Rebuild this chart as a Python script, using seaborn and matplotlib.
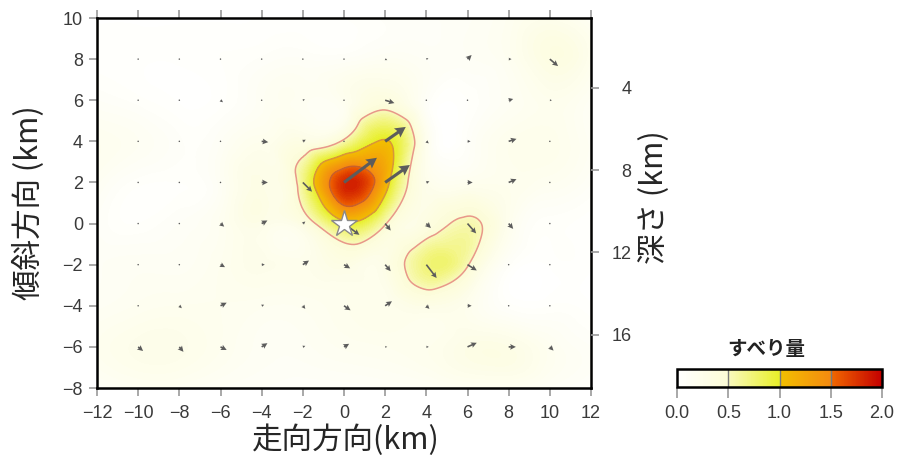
import numpy as np
import matplotlib
matplotlib.use("Agg")
import matplotlib.pyplot as plt
import matplotlib.tri as mtri
from matplotlib.colors import LinearSegmentedColormap, Normalize
from matplotlib.cm import ScalarMappable
import seaborn as sns

# slip grid (m), nodes every 2 km
grid_x = [-12, -10, -8, -6, -4, -2, 0, 2, 4, 6, 8, 10, 12]
grid_y = [10, 8, 6, 4, 2, 0, -2, -4, -6, -8]
slip = [
    [0.02, 0.02, 0.02, 0.02, 0.03, 0.05, 0.05, 0.08, 0.10, 0.12, 0.18, 0.24, 0.14],
    [0.04, 0.03, 0.03, 0.05, 0.08, 0.10, 0.10, 0.15, 0.12, 0.12, 0.18, 0.34, 0.22],
    [0.10, 0.06, 0.02, 0.04, 0.14, 0.16, 0.20, 0.38, 0.10, 0.05, 0.14, 0.22, 0.14],
    [0.20, 0.15, 0.08, 0.12, 0.22, 0.32, 0.55, 1.02, 0.22, 0.08, 0.22, 0.24, 0.14],
    [0.16, 0.06, 0.05, 0.14, 0.30, 0.65, 1.80, 1.15, 0.25, 0.20, 0.22, 0.18, 0.10],
    [0.10, 0.05, 0.10, 0.18, 0.28, 0.34, 0.92, 0.52, 0.35, 0.55, 0.22, 0.06, 0.03],
    [0.12, 0.14, 0.14, 0.20, 0.26, 0.24, 0.32, 0.30, 0.72, 0.52, 0.08, 0.03, 0.03],
    [0.14, 0.18, 0.20, 0.20, 0.18, 0.18, 0.22, 0.24, 0.30, 0.22, 0.06, 0.05, 0.03],
    [0.20, 0.26, 0.26, 0.20, 0.14, 0.14, 0.18, 0.20, 0.22, 0.30, 0.30, 0.18, 0.10],
    [0.10, 0.16, 0.16, 0.12, 0.10, 0.08, 0.08, 0.10, 0.12, 0.16, 0.16, 0.12, 0.06],
]

# slip vectors on subfaults
arrow_x = [-10, -8, -6, -4, -2, 0, 2, 4, 6, 8, 10]
arrow_y = [8, 6, 4, 2, 0, -2, -4, -6]
slip_u = [
    [0.04, 0.04, 0.00, 0.04, 0.00, 0.04, 0.10, 0.10, 0.20, 0.14, 0.40],
    [0.04, 0.00, 0.12, 0.04, 0.10, 0.06, 0.45, 0.04, 0.06, 0.22, 0.10],
    [0.04, 0.04, 0.04, 0.32, 0.14, 0.05, 1.00, 0.12, 0.15, 0.38, 0.00],
    [0.04, 0.00, 0.04, 0.30, 0.45, 1.60, 1.20, 0.15, 0.25, 0.38, 0.00],
    [0.00, 0.04, 0.18, 0.28, 0.12, 0.75, 0.27, 0.22, 0.42, 0.22, 0.04],
    [0.04, 0.04, 0.22, 0.15, 0.30, 0.30, 0.27, 0.50, 0.45, 0.04, 0.04],
    [0.04, 0.12, 0.30, 0.12, 0.12, 0.32, 0.33, 0.15, 0.20, 0.04, 0.00],
    [0.24, 0.20, 0.30, 0.28, 0.12, 0.25, 0.10, 0.12, 0.45, 0.35, 0.18],
]
slip_v = [
    [0.00, 0.00, 0.00, 0.00, 0.00, 0.00, -0.05, 0.04, 0.20, 0.00, -0.34],
    [0.00, 0.00, -0.10, 0.00, 0.04, 0.00, -0.14, 0.00, 0.00, 0.06, 0.00],
    [0.00, 0.00, 0.00, -0.04, 0.08, 0.00, 0.70, -0.10, 0.00, 0.12, 0.00],
    [0.00, 0.00, 0.00, 0.00, -0.45, 1.20, 0.85, 0.05, 0.00, 0.16, 0.00],
    [0.00, 0.00, -0.15, 0.15, 0.10, -0.55, -0.34, -0.22, -0.48, -0.26, 0.00],
    [0.00, 0.00, -0.12, 0.00, 0.20, -0.18, -0.32, -0.65, -0.28, 0.00, 0.00],
    [0.00, -0.12, 0.15, 0.05, -0.15, -0.22, 0.22, -0.15, 0.00, 0.00, 0.00],
    [-0.20, -0.24, -0.15, 0.18, 0.05, 0.15, 0.00, 0.00, 0.20, 0.00, -0.18],
]

hypo_x = [0.0]
hypo_y = [0.0]

contour_levels = [0.5, 1.0, 1.5]
cbar_ticks = [0.0, 0.5, 1.0, 1.5, 2.0]
depth_ticks = [4, 8, 12, 16]
depth_at_zero = 10.6  # depth (km) at dip position 0

sns.set_style("ticks")
plt.rcParams["font.family"] = ["Liberation Sans", "Noto Sans CJK JP", "DejaVu Sans"]
jp = ["Noto Sans CJK JP", "DejaVu Sans"]

cmap = LinearSegmentedColormap.from_list("slip", [
    (0.0, "#ffffff"), (0.2499, "#fcfcd6"), (0.25, "#f9f9be"),
    (0.4999, "#e8ef28"), (0.5, "#f2c000"), (0.7499, "#f48a10"),
    (0.75, "#f26a00"), (1.0, "#c40000")])
cmap.set_under("#ffffff")
cmap.set_over("#c40000")

fig = plt.figure(figsize=(8.97, 4.61), dpi=100)
ax = fig.add_axes([97 / 897, 1 - 388 / 461, 494 / 897, 370 / 461])

X, Y = np.meshgrid(grid_x, grid_y)
Z = np.array(slip)
tri = mtri.Triangulation(X.ravel(), Y.ravel())
interp = mtri.CubicTriInterpolator(tri, Z.ravel(), kind="min_E")
refiner = mtri.UniformTriRefiner(tri)
tri_f, z_f = refiner.refine_field(Z.ravel(), triinterpolator=interp, subdiv=4)

ax.tricontourf(tri_f, z_f, levels=np.linspace(0, 2, 81), cmap=cmap,
               vmin=0, vmax=2, extend="both", zorder=1)
ax.tricontour(tri_f, z_f, levels=contour_levels,
              colors=["#e8988a", "#d8963a", "#c8602c"], linewidths=1.1, zorder=2)

AX, AY = np.meshgrid(arrow_x, arrow_y)
U = np.array(slip_u)
V = np.array(slip_v)
big = np.hypot(U, V) > 1.0
ax.quiver(AX[~big], AY[~big], U[~big], V[~big], angles="xy", scale_units="xy",
          scale=1, units="xy", width=0.08, headwidth=3.5, headlength=3.5,
          headaxislength=3.0, color="#5c5c5c", zorder=3)
ax.quiver(AX[big], AY[big], U[big], V[big], angles="xy", scale_units="xy",
          scale=1, units="xy", width=0.15, headwidth=3.6, headlength=3.4,
          headaxislength=3.0, color="#5c5c5c", zorder=3)

ax.plot(hypo_x, hypo_y, marker="*", ms=20, mfc="white", mec="#8a8a8a",
        mew=1.0, ls="none", zorder=4)

ax.set_xlim(-12, 12)
ax.set_ylim(-8, 10)
ax.set_xticks(range(-12, 13, 2))
ax.set_yticks(range(-8, 11, 2))
ax.tick_params(axis="both", direction="out", length=6, width=1.2,
               color="#9a9a9a", labelcolor="#3a3a3a", labelsize=13)
ax.tick_params(axis="x", top=True, labeltop=False, pad=6)
ax.tick_params(axis="y", right=False, pad=4)
for sp in ax.spines.values():
    sp.set_linewidth(1.8)
    sp.set_color("black")

tw = ax.twinx()
tw.set_ylim(depth_at_zero + 8, depth_at_zero - 10)
tw.set_yticks(depth_ticks)
tw.tick_params(axis="y", direction="out", length=6, width=1.2, color="#9a9a9a",
               labelcolor="#3a3a3a", labelsize=13, pad=23)
for lab in tw.get_yticklabels():
    lab.set_ha("right")
for sp in tw.spines.values():
    sp.set_visible(False)

fig.text(29 / 897, 1 - 203 / 461, "傾斜方向 (km)", rotation=90, ha="center",
         va="center", fontsize=22, family=jp)
fig.text(346 / 897, 1 - 440 / 461, "走向方向(km)", ha="center", va="center",
         fontsize=22, family=jp)
fig.text(655 / 897, 1 - 197 / 461, "深さ (km)", rotation=90, ha="center",
         va="center", fontsize=22, family=jp)

cax = fig.add_axes([677 / 897, 1 - 387 / 461, 205 / 897, 18 / 461])
sm = ScalarMappable(norm=Normalize(0, 2), cmap=cmap)
cb = fig.colorbar(sm, cax=cax, orientation="horizontal", ticks=cbar_ticks)
cb.ax.xaxis.set_major_formatter("{x:.1f}")
cb.outline.set_linewidth(1.8)
cb.outline.set_edgecolor("black")
cax.tick_params(axis="x", direction="out", length=8, width=1.2, color="#9a9a9a",
                labelcolor="#3a3a3a", labelsize=13, pad=5)
for t in cbar_ticks[1:-1]:
    cax.axvline(t, color="#7a7a7a", lw=1.0)
fig.text(766 / 897, 1 - 349 / 461, "すべり量", ha="center", va="center",
         fontsize=14, fontweight="bold", color="#222222", family=jp)

fig.savefig("out.png", dpi=100)
